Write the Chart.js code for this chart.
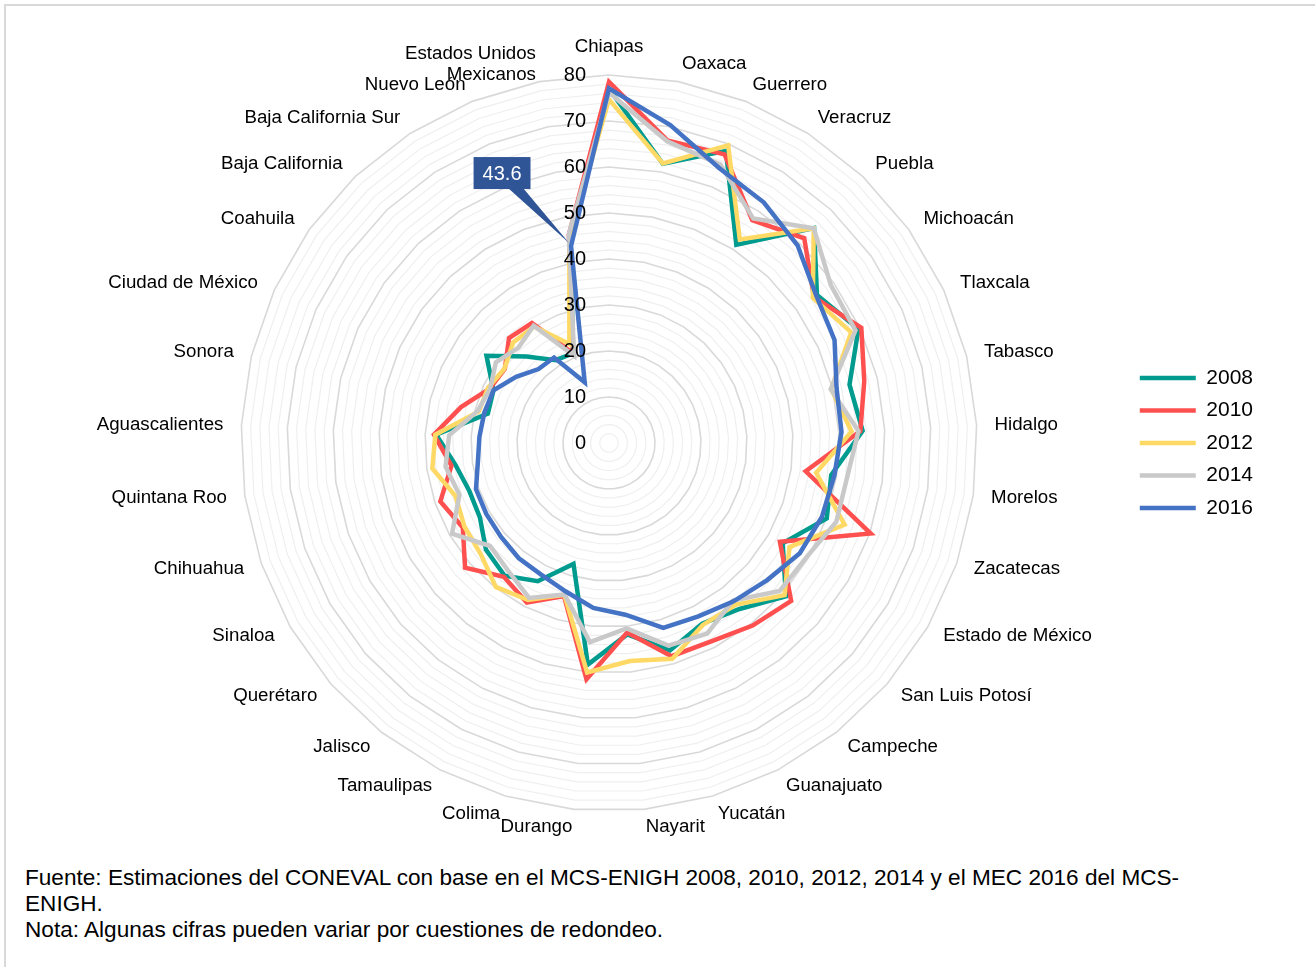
<!DOCTYPE html>
<html lang="es">
<head>
<meta charset="utf-8">
<title>Pobreza por entidad federativa 2008-2016</title>
<script src="https://cdn.jsdelivr.net/npm/chart.js@4.4.1/dist/chart.umd.min.js"></script>
<style>
  html, body { margin: 0; padding: 0; background: #fff; overflow: hidden; }
  body { width: 1315px; height: 967px; position: relative; font-family: 'Liberation Sans', Arial, sans-serif; }
  #frame { position: absolute; left: 4px; top: 4px; width: 1400px; height: 1100px; border: 2px solid #d9d9d9; }
  #wrap { position: absolute; left: 0; top: 0; width: 1315px; height: 862px; }
  #nota { position: absolute; left: 25px; top: 865px; font-size: 22.6px; line-height: 26px; color: #000; }
</style>
</head>
<body>
<div id="frame"></div>
<div id="wrap"><canvas id="radar"></canvas></div>
<div id="nota">Fuente: Estimaciones del CONEVAL con base en el MCS-ENIGH 2008, 2010, 2012, 2014 y el MEC 2016 del MCS-<br>ENIGH.<br>Nota: Algunas cifras pueden variar por cuestiones de redondeo.</div>
<script>
// entidades, ordenadas por 2016 (de mayor a menor), al final el nacional
const estados = [
    'Chiapas', 'Oaxaca', 'Guerrero', 'Veracruz', 'Puebla', 'Michoacán', 'Tlaxcala', 'Tabasco',
    'Hidalgo', 'Morelos', 'Zacatecas', 'Estado de México', 'San Luis Potosí', 'Campeche',
    'Guanajuato', 'Yucatán', 'Nayarit', 'Durango', 'Colima', 'Tamaulipas', 'Jalisco',
    'Querétaro', 'Sinaloa', 'Chihuahua', 'Quintana Roo', 'Aguascalientes', 'Sonora',
    'Ciudad de México', 'Coahuila', 'Baja California', 'Baja California Sur', 'Nuevo León',
    ['Estados Unidos', 'Mexicanos'],
];

const anios = ['2008', '2010', '2012', '2014', '2016'];
const colores = ['#009b8f', '#ff5050', '#ffd966', '#c9c9c9', '#4472c4'];

const pob2008 = [77.0, 61.8, 68.4, 51.2, 64.6, 55.5, 59.6, 53.8, 55.2, 48.8, 50.1, 43.6, 50.9, 45.9, 44.2, 47.0, 41.8,
    48.4, 27.4, 33.8, 36.7, 35.4, 32.4, 32.1, 33.7, 37.6, 27.1, 27.6, 32.7, 26.0, 21.4, 21.0, 44.4];
const pob2010 = [78.5, 67.0, 67.6, 57.6, 61.5, 54.7, 60.3, 57.1, 54.7, 43.2, 60.2, 42.9, 52.4, 50.5, 48.5, 48.3, 41.4,
    51.6, 34.7, 39.0, 37.0, 41.4, 36.7, 38.8, 34.6, 38.1, 33.1, 28.5, 27.8, 31.5, 31.0, 21.0, 46.1];
const pob2012 = [74.7, 61.9, 69.7, 52.6, 64.5, 54.4, 57.9, 49.7, 52.8, 45.5, 54.2, 45.3, 50.5, 44.7, 44.5, 48.9, 47.6,
    50.1, 34.4, 38.4, 39.8, 36.9, 36.3, 35.3, 38.8, 37.8, 29.1, 28.9, 27.9, 30.2, 30.1, 23.2, 45.5];
const pob2014 = [76.2, 66.8, 65.2, 58.0, 64.5, 59.2, 58.9, 49.6, 54.3, 52.3, 52.3, 49.6, 49.1, 43.6, 46.6, 45.9, 40.5,
    43.5, 34.3, 37.9, 35.4, 34.2, 39.4, 34.4, 35.9, 34.8, 29.4, 28.4, 30.2, 28.6, 30.3, 20.4, 46.2];
const pob2016 = [77.1, 70.4, 64.4, 62.2, 59.4, 55.3, 53.9, 50.9, 50.6, 49.5, 49.0, 47.9, 45.5, 43.8, 42.4, 41.9, 37.5,
    36.0, 33.6, 32.2, 31.8, 31.1, 30.8, 30.6, 28.8, 28.2, 27.9, 27.6, 24.8, 22.2, 22.1, 14.2, 43.6];

const series = [pob2008, pob2010, pob2012, pob2014, pob2016];
const marcasEje = [0, 10, 20, 30, 40, 50, 60, 70, 80];

const FUENTE = "'Liberation Sans', Arial, sans-serif";

// etiquetas del eje radial: a la izquierda del eje, alineadas a la derecha
const etiquetasEje = {
    id: 'etiquetasEje',
    afterDatasetsDraw(chart) {
        const r = chart.scales.r;
        const ctx = chart.ctx;
        ctx.save();
        ctx.font = `20px ${FUENTE}`;
        ctx.fillStyle = '#000';
        ctx.textAlign = 'right';
        ctx.textBaseline = 'middle';
        marcasEje.forEach((v) => {
            const d = r.getDistanceFromCenterForValue(v);
            ctx.fillText(String(v), r.xCenter - 23, r.yCenter - d);
        });
        ctx.restore();
    },
};

// nombres de las entidades al estilo Excel: centrados en vertical sobre su radio
const nombresEntidades = {
    id: 'nombresEntidades',
    afterDraw(chart) {
        const r = chart.scales.r;
        const ctx = chart.ctx;
        const n = estados.length;
        const alto = 21;
        ctx.save();
        ctx.font = `18.7px ${FUENTE}`;
        ctx.fillStyle = '#000';
        ctx.textBaseline = 'middle';
        estados.forEach((nombre, i) => {
            const p = r.getPointPosition(i, r.drawingArea + 18);
            const grados = (i * 360) / n;
            const lineas = Array.isArray(nombre) ? nombre : [nombre];
            let y = p.y - ((lineas.length - 1) * alto) / 2;
            if (grados === 0) {
                ctx.textAlign = 'center';
                y = p.y - 10;
            } else {
                ctx.textAlign = grados < 180 ? 'left' : 'right';
            }
            lineas.forEach((t, k) => ctx.fillText(t, p.x, y + k * alto));
        });
        ctx.restore();
    },
};

// rótulo del nacional 2016 con globo
const rotuloNacional = {
    id: 'rotuloNacional',
    afterDatasetsDraw(chart) {
        const ds = series.length - 1;
        const idx = estados.length - 1;
        const el = chart.getDatasetMeta(ds).data[idx];
        if (!el) return;
        const ctx = chart.ctx;
        const texto = series[ds][idx].toFixed(1);
        ctx.save();
        ctx.font = `20px ${FUENTE}`;
        const w = ctx.measureText(texto).width + 18;
        const h = 32;
        const cx = el.x - 69;
        const cy = el.y - 73;
        const x0 = cx - w / 2;
        const y0 = cy - h / 2;
        ctx.fillStyle = '#2f5597';
        ctx.beginPath();
        ctx.moveTo(cx + 6, y0 + h - 1);
        ctx.lineTo(el.x - 2, el.y - 3);
        ctx.lineTo(cx + 21, y0 + h - 1);
        ctx.closePath();
        ctx.fill();
        ctx.fillRect(x0, y0, w, h);
        ctx.fillStyle = '#fff';
        ctx.textAlign = 'center';
        ctx.textBaseline = 'middle';
        ctx.fillText(texto, cx, cy + 1);
        ctx.restore();
    },
};

const ctx = document.getElementById('radar').getContext('2d');
new Chart(ctx, {
    type: 'radar',
    data: {
        labels: estados,
        datasets: anios.map((anio, i) => ({
            label: anio,
            data: series[i],
            borderColor: colores[i],
            backgroundColor: colores[i],
            borderWidth: 4.5,
            borderJoinStyle: 'miter',
            borderCapStyle: 'round',
            pointRadius: 0,
            pointHoverRadius: 0,
            fill: false,
            tension: 0,
            order: anios.length - 1 - i,
        })),
    },
    options: {
        responsive: true,
        maintainAspectRatio: false,
        animation: false,
        layout: { padding: { left: 90, right: 52, top: 75, bottom: 51 } },
        scales: {
            r: {
                min: 0,
                max: 80,
                ticks: { stepSize: 2, display: false },
                angleLines: { display: false },
                grid: {
                    circular: false,
                    color: (c) => (c.tick && c.tick.value % 10 === 0 ? '#d9d9d9' : '#efefef'),
                    lineWidth: (c) => (c.tick && c.tick.value % 10 === 0 ? 1.6 : 1.2),
                },
                pointLabels: { display: false },
            },
        },
        plugins: {
            legend: {
                position: 'right',
                align: 'center',
                labels: {
                    usePointStyle: true,
                    pointStyle: 'line',
                    pointStyleWidth: 56,
                    padding: 11.5,
                    color: '#000',
                    font: { size: 21, family: FUENTE },
                    sort: (a, b) => a.datasetIndex - b.datasetIndex,
                },
            },
            tooltip: { enabled: false },
        },
    },
    plugins: [etiquetasEje, nombresEntidades, rotuloNacional],
});
</script>
</body>
</html>
